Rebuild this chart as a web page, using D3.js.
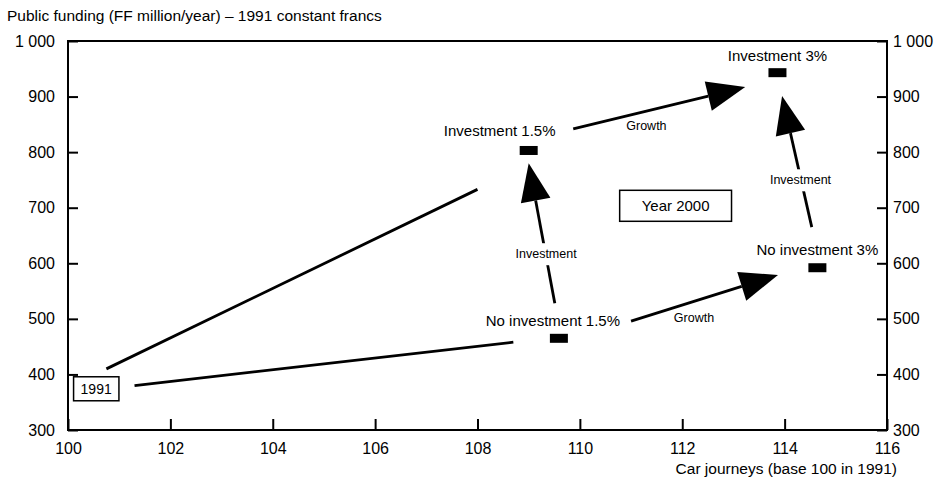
<!DOCTYPE html>
<html>
<head>
<meta charset="utf-8">
<script src="https://cdn.jsdelivr.net/npm/d3@7"></script>
<style>
  body { margin: 0; background: #fff; }
  svg { display: block; font-family: 'Liberation Sans', Arial, sans-serif; }
</style>
</head>
<body>
<script>
// Tick values
const xTicks = [100, 102, 104, 106, 108, 110, 112, 114, 116];
const yTicks = [300, 400, 500, 600, 700, 800, 900, 1000];

// Year 2000 scenarios (car journeys index, public funding FF million)
const scenarios = ['Investment 1.5%', 'Investment 3%', 'No investment 1.5%', 'No investment 3%'];
const journeys = [109.0, 113.86, 109.59, 114.64];
const funding = [803, 943, 465, 592];

// Trend lines out of 1991
const trendStartX = [100.75, 101.3];
const trendStartY = [410, 380];
const trendEndX = [108.0, 108.7];
const trendEndY = [733, 458];

// Arrows between scenarios
const arrowLabels = ['Growth', 'Growth', 'Investment', 'Investment'];
const arrowFromX = [109.87, 111.0, 109.51, 114.53];
const arrowFromY = [842, 496, 528, 665];
const arrowToX = [113.23, 113.87, 109.0, 113.95];
const arrowToY = [917, 579, 780, 901];
const arrowLabelX = [111.3, 112.23, 109.34, 114.31];
const arrowLabelY = [847, 503, 617, 750];

// Boxed year labels
const boxText = ['1991', 'Year 2000'];
const boxX = [100.55, 111.87];
const boxY = [374, 703];

const W = 944, H = 480;
const margin = { top: 41, right: 57, bottom: 50, left: 68 };

const svg = d3.select('body').append('svg')
  .attr('width', W)
  .attr('height', H);

const x = d3.scaleLinear().domain([100, 116]).range([margin.left, W - margin.right]);
const y = d3.scaleLinear().domain([300, 1000]).range([H - margin.bottom, margin.top]);

const fr = d3.formatLocale({ decimal: '.', thousands: '\u00a0', grouping: [3], currency: ['', ''] });
const fmtY = fr.format(',d');

// Frame
svg.append('rect')
  .attr('x', x(100))
  .attr('y', y(1000))
  .attr('width', x(116) - x(100))
  .attr('height', y(300) - y(1000))
  .attr('fill', 'none')
  .attr('stroke', '#000')
  .attr('stroke-width', 2);

function styleAxis(g) {
  g.select('.domain').remove();
  g.attr('font-family', null).attr('font-size', 16);
  g.selectAll('.tick line').attr('stroke-width', 2);
  g.selectAll('.tick text').attr('fill', '#000');
}

svg.append('g')
  .attr('transform', `translate(${x(100)},0)`)
  .call(d3.axisLeft(y).tickValues(yTicks).tickFormat(fmtY).tickSizeInner(-10).tickSizeOuter(0).tickPadding(13))
  .call(styleAxis);

svg.append('g')
  .attr('transform', `translate(${x(116)},0)`)
  .call(d3.axisRight(y).tickValues(yTicks).tickFormat(fmtY).tickSizeInner(-10).tickSizeOuter(0).tickPadding(6))
  .call(styleAxis);

svg.append('g')
  .attr('transform', `translate(0,${y(300)})`)
  .call(d3.axisBottom(x).tickValues(xTicks).tickSizeInner(-11).tickSizeOuter(0).tickPadding(13))
  .call(styleAxis);

// Titles
svg.append('text')
  .attr('x', 7)
  .attr('y', 21)
  .style('font-size', '15.5px')
  .text('Public funding (FF million/year) \u2013 1991 constant francs');

svg.append('text')
  .attr('x', 897)
  .attr('y', 474)
  .attr('text-anchor', 'end')
  .style('font-size', '15.5px')
  .text('Car journeys (base 100 in 1991)');

// Trend lines
svg.append('g')
  .selectAll('line')
  .data(trendStartX)
  .enter()
  .append('line')
  .attr('x1', (d, i) => x(trendStartX[i]))
  .attr('y1', (d, i) => y(trendStartY[i]))
  .attr('x2', (d, i) => x(trendEndX[i]))
  .attr('y2', (d, i) => y(trendEndY[i]))
  .attr('stroke', '#000')
  .attr('stroke-width', 2.8);

// Arrows
const headLen = 38;
const headHalf = 15;
const arrows = svg.append('g');
arrowLabels.forEach((lab, i) => {
  const x0 = x(arrowFromX[i]), y0 = y(arrowFromY[i]);
  const x1 = x(arrowToX[i]), y1 = y(arrowToY[i]);
  const len = Math.hypot(x1 - x0, y1 - y0);
  const ux = (x1 - x0) / len, uy = (y1 - y0) / len;
  const bx = x1 - ux * headLen, by = y1 - uy * headLen;
  arrows.append('line')
    .attr('x1', x0).attr('y1', y0)
    .attr('x2', bx).attr('y2', by)
    .attr('stroke', '#000')
    .attr('stroke-width', 2.8);
  arrows.append('path')
    .attr('d', `M${x1},${y1}L${bx - uy * headHalf},${by + ux * headHalf}L${bx + uy * headHalf},${by - ux * headHalf}Z`)
    .attr('fill', '#000');
});

// Arrow labels (white background breaks the line)
arrowLabels.forEach((lab, i) => {
  const g = svg.append('g');
  const t = g.append('text')
    .attr('x', x(arrowLabelX[i]))
    .attr('y', y(arrowLabelY[i]))
    .attr('dy', '0.35em')
    .attr('text-anchor', 'middle')
    .style('font-size', '12.5px')
    .text(lab);
  if (lab === 'Investment') {
    const bb = t.node().getBBox();
    g.insert('rect', 'text')
      .attr('x', bb.x - 3)
      .attr('y', bb.y - 4)
      .attr('width', bb.width + 6)
      .attr('height', bb.height + 8)
      .attr('fill', '#fff');
  }
});

// Scenario markers
svg.append('g')
  .selectAll('rect')
  .data(scenarios)
  .enter()
  .append('rect')
  .attr('x', (d, i) => x(journeys[i]) - 9)
  .attr('y', (d, i) => y(funding[i]) - 4.5)
  .attr('width', 18)
  .attr('height', 9)
  .attr('fill', '#000');

// Scenario labels
const labelDx = [-29, 0, -6, 0];
const labelDy = [-14, -12, -12, -13];
svg.append('g')
  .selectAll('text')
  .data(scenarios)
  .enter()
  .append('text')
  .attr('x', (d, i) => x(journeys[i]) + labelDx[i])
  .attr('y', (d, i) => y(funding[i]) + labelDy[i])
  .attr('text-anchor', 'middle')
  .style('font-size', '15px')
  .text(d => d);

// Boxed year labels
const boxPadX = [7, 22];
const boxPadY = [5, 8];
const boxFont = [14, 15];
boxText.forEach((txt, i) => {
  const g = svg.append('g');
  const t = g.append('text')
    .attr('x', x(boxX[i]))
    .attr('y', y(boxY[i]))
    .attr('dy', '0.35em')
    .attr('text-anchor', 'middle')
    .style('font-size', `${boxFont[i]}px`)
    .text(txt);
  const bb = t.node().getBBox();
  g.insert('rect', 'text')
    .attr('x', bb.x - boxPadX[i])
    .attr('y', bb.y - boxPadY[i] + 1)
    .attr('width', bb.width + 2 * boxPadX[i])
    .attr('height', bb.height + 2 * boxPadY[i] - 2)
    .attr('fill', '#fff')
    .attr('stroke', '#000')
    .attr('stroke-width', 1.5);
});
</script>
</body>
</html>
